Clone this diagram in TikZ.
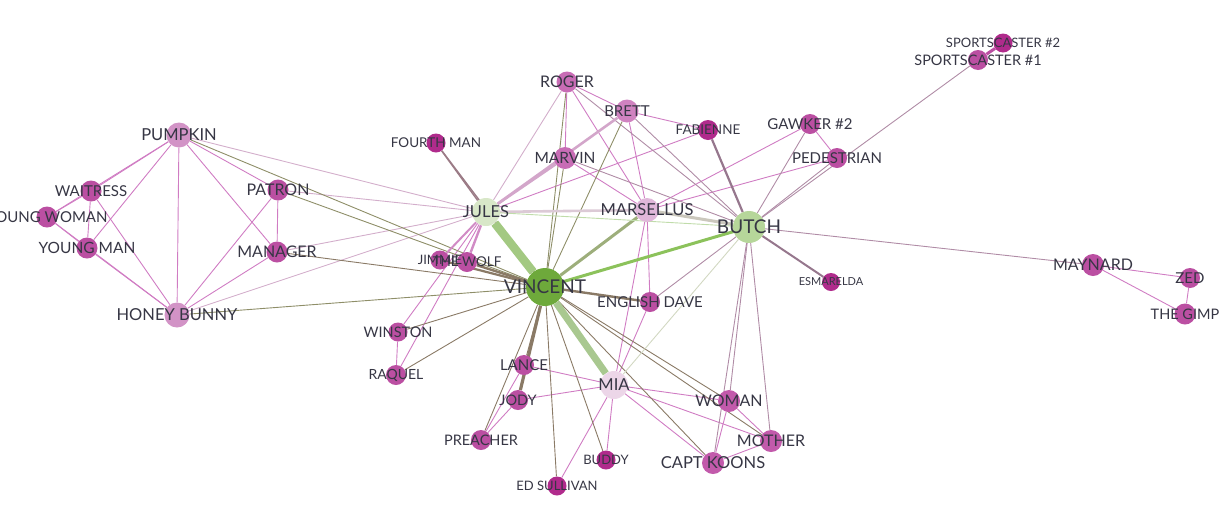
\documentclass[tikz,border=0pt]{standalone}
\usepackage{fontspec}
\setmainfont{Lato}
\usepackage{tikz}
\usetikzlibrary{arrows,shapes}
\pgfdeclarelayer{background}
\pgfsetlayers{background,main}
\definecolor{cVin}{HTML}{6EA93B}
\definecolor{cButch}{HTML}{B6D69A}
\definecolor{cJules}{HTML}{D8E7C8}
\definecolor{cMars}{HTML}{E0B7DA}
\definecolor{cMia}{HTML}{ECD6E8}
\definecolor{cLight}{HTML}{D293C6}
\definecolor{cRose}{HTML}{C86CB5}
\definecolor{cMag}{HTML}{BB4FA2}
\definecolor{cDeep}{HTML}{B02B8C}
\definecolor{cWom}{HTML}{C25AAB}
\definecolor{labelgray}{HTML}{363644}
\definecolor{ePink}{HTML}{D07CC3}
\definecolor{eMauve}{HTML}{B08CA6}
\definecolor{ePale}{HTML}{D3AECB}
\definecolor{eBrown}{HTML}{8A7A66}
\definecolor{eOlive}{HTML}{8E8E68}
\definecolor{eFourth}{HTML}{9B7B86}
\definecolor{eJV}{HTML}{A3C982}
\definecolor{eVM}{HTML}{A9C890}
\definecolor{eVB}{HTML}{8CC25B}
\definecolor{eVMars}{HTML}{9DAE7B}
\definecolor{eMarsB}{HTML}{CBC8BD}
\definecolor{eJMars}{HTML}{DCCAD6}
\definecolor{eJB}{HTML}{C0DCAA}
\definecolor{eBMia}{HTML}{D2D8C2}
\tikzstyle{vertex}=[circle,inner sep=0pt]
\tikzstyle{lbl}=[text=labelgray,inner sep=0pt]
\tikzstyle{edge} = [draw,line width=0.9pt,-]

\begin{document}
\begin{tikzpicture}[x=1pt,y=-1pt]
    \useasboundingbox (0,0) rectangle (1220,523);
    % First we draw the vertices
    \foreach \pos/\name/\d/\col in {{(545,287)/vincent/38/cVin}, {(749,227)/butch/32/cButch},
        {(486,212)/jules/28/cJules}, {(647,210)/marsellus/24/cMars}, {(614,385)/mia/28/cMia},
        {(179,135)/pumpkin/25/cLight}, {(177,315)/honey/25/cLight},
        {(567,82)/roger/21/cRose}, {(627,111)/brett/23/cRose!85!white}, {(565,158)/marvin/22/cRose},
        {(708,130)/fabienne/20/cDeep}, {(810,124)/gawker/20/cMag}, {(837,158)/pedestrian/20/cMag},
        {(1003,43)/sportsB/19/cDeep}, {(978,60)/sportsA/20/cMag},
        {(436,143)/fourth/19/cDeep}, {(91,191)/waitress/21/cMag}, {(47,217)/youngwoman/21/cMag},
        {(87,248)/youngman/21/cMag}, {(278,190)/patron/21/cMag}, {(277,252)/manager/21/cMag},
        {(440,260)/jimmie/19/cMag}, {(467,262)/wolf/20/cMag}, {(398,332)/winston/19/cMag},
        {(396,375)/raquel/20/cMag}, {(650,302)/english/20/cMag}, {(831,282)/esmarelda/18/cDeep},
        {(1093,265)/maynard/22/cMag}, {(1190,278)/zed/20/cMag}, {(1185,314)/gimp/21/cMag},
        {(524,365)/lance/20/cMag}, {(518,400)/jody/20/cMag}, {(481,440)/preacher/20/cMag},
        {(557,486)/edsullivan/19/cDeep}, {(606,460)/buddy/19/cDeep},
        {(729,401)/woman/22/cWom}, {(771,441)/mother/22/cWom}, {(713,463)/captkoons/22/cWom}}
        \node[vertex,minimum size=\d pt,fill=\col] (\name) at \pos {};
    % Connect vertices with edges
    \begin{pgfonlayer}{background}
    \foreach \source/ \dest in {pumpkin/waitress, pumpkin/youngwoman, pumpkin/youngman, pumpkin/honey,
        pumpkin/patron, pumpkin/manager, waitress/youngwoman, waitress/youngman, waitress/honey,
        youngwoman/youngman, youngwoman/honey, youngman/honey, patron/manager, patron/honey,
        manager/honey, roger/brett, roger/marvin, roger/marsellus, brett/fabienne, brett/marsellus,
        marvin/marsellus, gawker/pedestrian, marsellus/gawker, marsellus/pedestrian, jules/fabienne,
        marsellus/english, marsellus/mia, english/mia, mia/lance, mia/jody, mia/edsullivan, mia/buddy,
        mia/woman, mia/mother, mia/captkoons, lance/preacher, jody/preacher, winston/raquel,
        woman/mother, woman/captkoons, mother/captkoons, maynard/zed, maynard/gimp, zed/gimp,
        jules/winston, jules/raquel}
        \path[edge,color=ePink] (\source) -- (\dest);
    \foreach \source/ \dest in {butch/roger, butch/brett, butch/marvin, butch/gawker, butch/pedestrian,
        butch/sportsA, butch/maynard, butch/english, butch/woman, butch/mother, butch/captkoons}
        \path[edge,color=eMauve] (\source) -- (\dest);
    \foreach \source/ \dest in {jules/roger, jules/pumpkin, jules/patron, jules/manager, jules/honey}
        \path[edge,color=ePale] (\source) -- (\dest);
    \foreach \source/ \dest in {vincent/manager, vincent/winston, vincent/raquel, vincent/lance,
        vincent/preacher, vincent/edsullivan, vincent/buddy, vincent/woman, vincent/mother,
        vincent/captkoons}
        \path[edge,color=eBrown] (\source) -- (\dest);
    \foreach \source/ \dest in {vincent/pumpkin, vincent/honey, vincent/roger, vincent/marvin,
        vincent/brett, vincent/patron}
        \path[edge,color=eOlive] (\source) -- (\dest);
    \foreach \source/ \dest/ \w in {jules/jimmie/2, jules/wolf/2.4}
        \path[edge,color=ePink!70!ePale,line width=\w pt] (\source) -- (\dest);
    \foreach \source/ \dest/ \w in {jules/brett/2.6, jules/marvin/2.4}
        \path[edge,color=ePale!85!ePink,line width=\w pt] (\source) -- (\dest);
    \foreach \source/ \dest/ \w in {vincent/jimmie/2.2, vincent/wolf/2.4, vincent/english/2.4,
        vincent/jody/3.2}
        \path[edge,color=eBrown,line width=\w pt] (\source) -- (\dest);
    \foreach \source/ \dest in {vincent/fourth, jules/fourth}
        \path[edge,color=eFourth,line width=1.4pt] (\source) -- (\dest);
    \path[edge,color=eMauve!85!black,line width=2.2pt] (butch) -- (fabienne);
    \path[edge,color=eMauve!85!black,line width=2pt] (butch) -- (esmarelda);
    \path[edge,color=cMag,line width=3pt] (sportsA) -- (sportsB);
    \path[edge,color=eJV,line width=8.5pt] (jules) -- (vincent);
    \path[edge,color=eVM,line width=7pt] (vincent) -- (mia);
    \path[edge,color=eVB,line width=3pt] (vincent) -- (butch);
    \path[edge,color=eVMars,line width=3pt] (vincent) -- (marsellus);
    \path[edge,color=eMarsB,line width=3pt] (marsellus) -- (butch);
    \path[edge,color=eJMars,line width=2.6pt] (jules) -- (marsellus);
    \path[edge,color=eJB] (jules) -- (butch);
    \path[edge,color=eBMia] (butch) -- (mia);
    \end{pgfonlayer}
    % Then the names on top
    \foreach \name/\txt/\sz in {vincent/VINCENT/19, butch/BUTCH/19, jules/JULES/16.5,
        marsellus/MARSELLUS/16.5, mia/MIA/16.5, pumpkin/PUMPKIN/16.5, honey/HONEY BUNNY/16.5,
        roger/ROGER/16, brett/BRETT/15, marvin/MARVIN/15.5, fabienne/FABIENNE/13.5,
        gawker/GAWKER \#2/15, pedestrian/PEDESTRIAN/15, sportsB/SPORTSCASTER \#2/13,
        sportsA/SPORTSCASTER \#1/14.5, fourth/FOURTH MAN/13.5, waitress/WAITRESS/15,
        youngwoman/YOUNG WOMAN/15, youngman/YOUNG MAN/15.5, patron/PATRON/16, manager/MANAGER/16,
        jimmie/JIMMIE/13, wolf/THE WOLF/13.5, winston/WINSTON/14.5, raquel/RAQUEL/14,
        english/ENGLISH DAVE/15, esmarelda/ESMARELDA/11, maynard/MAYNARD/16, zed/ZED/15,
        gimp/THE GIMP/14.5, lance/LANCE/15, jody/JODY/14.5, preacher/PREACHER/14.5,
        edsullivan/ED SULLIVAN/13, buddy/BUDDY/13, woman/WOMAN/16, mother/MOTHER/16,
        captkoons/CAPT KOONS/16.5}
        \node[lbl,font=\fontsize{\sz}{\sz}\selectfont] (\name-t) at (\name) {\txt};
\end{tikzpicture}
\end{document}
